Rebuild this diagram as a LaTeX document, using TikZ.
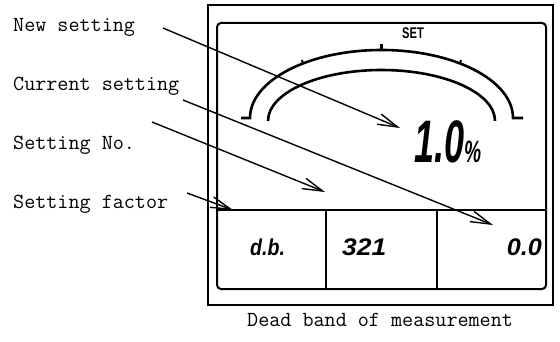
\documentclass[tikz,border=0pt]{standalone}
\usepackage{fontspec}
\usepackage{graphicx}
\usetikzlibrary{arrows.meta}
\newfontfamily\lcdfont{Liberation Sans}
\begin{document}
\begin{tikzpicture}[x=1pt,y=-1pt,
  lbl/.style={font=\ttfamily\fontsize{21.5}{24}\selectfont, anchor=base west, inner sep=0pt},
  lcd/.style={font=\lcdfont\bfseries\itshape, inner sep=0pt},
  ptr/.style={line width=1.4pt, -{Straight Barb[length=20pt,width=11pt,line width=1.4pt]}},
  frame/.style={line width=2pt},
  arcline/.style={line width=2.6pt},
  divider/.style={line width=1.5pt}]
\useasboundingbox (0,0) rectangle (560,342);
% frames
\draw[frame] (208,5) rectangle (553,305);
\draw[frame, rounded corners=4pt] (217,23) rectangle (546,289);
\draw[divider] (217,210) -- (546,210);
\draw[divider] (326,210) -- (326,289);
\draw[divider] (437,210) -- (437,289);
% arcs
\draw[arcline] (241,118) -- (250,118) arc[start angle=180, end angle=0, x radius=131.5pt, y radius=68pt] -- (523,118);
\draw[arcline] (268,121) arc[start angle=180, end angle=0, x radius=113.5pt, y radius=51pt];
\draw[line width=2.6pt] (381.5,50) -- (381.5,44);
\draw[line width=2pt] (303,63.5) -- (302,60);
\draw[line width=2pt] (460,63.5) -- (461,60);
% lcd texts
\node[lcd, font=\lcdfont\bfseries] (set) at (413,33.5) {\fontsize{15.5}{15.5}\selectfont\scalebox{0.72}[1]{SET}};
\node[lcd, anchor=base west] (value) at (414,163) {{\fontsize{60}{60}\selectfont\scalebox{0.6}[1]{1.0}}{\fontsize{31}{31}\selectfont\scalebox{0.62}[1]{\%}}};
\node[lcd, anchor=base west] (db) at (250,255) {\fontsize{23}{23}\selectfont\scalebox{0.85}[1]{d.b.}};
\node[lcd, anchor=base west] (num) at (342,255) {\fontsize{24}{24}\selectfont\scalebox{1.1}[1]{321}};
\node[lcd, anchor=base east] (cur) at (542,255) {\fontsize{24}{24}\selectfont\scalebox{1.05}[1]{0.0}};
% labels
\node[lbl] (newset) at (13,32) {New setting};
\node[lbl] (curset) at (13,91) {Current setting};
\node[lbl] (setno) at (13,150) {Setting No.};
\node[lbl] (setfac) at (13,208) {Setting factor};
\node[lbl] (deadband) at (247,326) {Dead band of measurement};
% arrows
\coordinate (a1s) at (163,28);  \coordinate (a1e) at (400,128);
\coordinate (a2s) at (183,100); \coordinate (a2e) at (493,225);
\coordinate (a3s) at (152,122); \coordinate (a3e) at (325,192);
\coordinate (a4s) at (187,193); \coordinate (a4e) at (233,210);
\draw[ptr] (a1s) -- (a1e);
\draw[ptr] (a2s) -- (a2e);
\draw[ptr] (a3s) -- (a3e);
\draw[ptr] (a4s) -- (a4e);
\end{tikzpicture}
\end{document}
